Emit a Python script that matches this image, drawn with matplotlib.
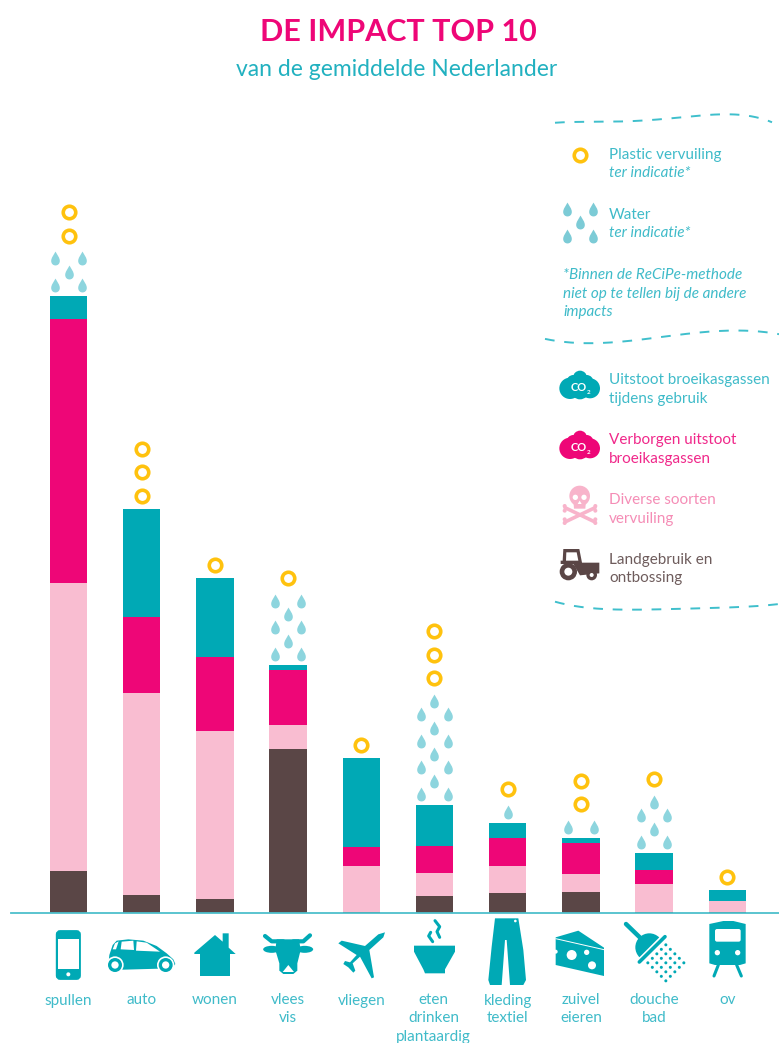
import numpy as np
import matplotlib
matplotlib.use("Agg")
from matplotlib import pyplot as plt
from matplotlib.patches import Circle, Ellipse, Polygon, FancyBboxPatch, Wedge
from matplotlib.path import Path

categories = ["spullen", "auto", "wonen", "vlees\nvis", "vliegen",
              "eten\ndrinken\nplantaardig", "kleding\ntextiel", "zuivel\neieren",
              "douche\nbad", "ov"]
land = [42, 18, 14, 164, 1, 17, 20, 21, 1, 1]
pollution = [288, 202, 168, 24, 46, 23, 27, 18.5, 28, 11]
hidden_co2 = [264, 76, 74, 55.5, 19, 27, 28, 31, 14, 0]
use_co2 = [23, 108, 79, 4.5, 89, 41, 15, 4.5, 17, 11]
plastic_rings = [2, 3, 1, 1, 1, 3, 1, 2, 1, 1]
water_drops = [5, 0, 0, 8, 0, 12, 1, 2, 6, 0]

TEAL = "#00A9B5"
PINK = "#EE0677"
LIGHT = "#F9BDD1"
BROWN = "#5A4646"
YELLOW = "#FFC20E"
DROP = "#8DD5DE"
TXT = "#3FBBC9"
FONT = "Lato"

DROP_PATH = Path(
    [(0, 1), (-0.3, 0.45), (-0.62, 0.1), (-0.62, -0.35), (-0.62, -0.8), (-0.3, -1), (0, -1),
     (0.3, -1), (0.62, -0.8), (0.62, -0.35), (0.62, 0.1), (0.3, 0.45), (0, 1)],
    [Path.MOVETO] + [Path.CURVE4] * 12)

fig = plt.figure(figsize=(7.79, 10.43), dpi=100)

# chart axes: x is the category index, y is the height above the baseline
ax = fig.add_axes([0, 0, 1, 1])
ax.set_xlim(-68.5 / 73.2, (779 - 68.5) / 73.2)
ax.set_ylim(-130, 913)
ax.axis("off")

x = np.arange(len(categories))
bottom = np.zeros(len(categories))
for values, color in [(land, BROWN), (pollution, LIGHT), (hidden_co2, PINK), (use_co2, TEAL)]:
    ax.bar(x, values, width=0.513, bottom=bottom, color=color, linewidth=0)
    bottom += np.array(values)

ax.plot([-0.785, 9.7], [0, 0], color="#4DBFCB", lw=1.3, clip_on=False)

for i, total in enumerate(bottom):
    y = total + 11
    left = water_drops[i]
    sides = left > 1
    while left > 0:
        if sides:
            ax.plot([i - 0.18, i + 0.18], [y, y], ls="none", marker=DROP_PATH, ms=10,
                    color=DROP, mew=0)
            left -= 2
        else:
            ax.plot([i], [y], ls="none", marker=DROP_PATH, ms=10, color=DROP, mew=0)
            left -= 1
        sides = not sides
        y += 13.3
    y = y - 13.3 + 22.7 if water_drops[i] else total + 13.5
    for r in range(plastic_rings[i]):
        ax.plot([i], [y + r * 23.5], ls="none", marker="o", ms=9, mfc="white",
                mec=YELLOW, mew=2.6)

# overlay in picture pixels for the texts and the icons
ov = fig.add_axes([0, 0, 1, 1])
ov.set_xlim(0, 779)
ov.set_ylim(1043, 0)
ov.axis("off")
ov.patch.set_alpha(0)


def poly(points, ox, oy, color=TEAL, z=3):
    pts = [(px / 3 + ox, py / 3 + oy) for px, py in points]
    ov.add_patch(Polygon(pts, closed=True, fc=color, ec="none", zorder=z))


def disc(px, py, r, ox, oy, color=TEAL, z=3):
    ov.add_patch(Circle((px / 3 + ox, py / 3 + oy), r / 3, fc=color, ec="none", zorder=z))


def stroke(points, ox, oy, lw, color=TEAL, z=3):
    ov.plot([p[0] / 3 + ox for p in points], [p[1] / 3 + oy for p in points],
            color=color, lw=lw, solid_capstyle="round", solid_joinstyle="round", zorder=z)


def label(px, py, s, color=TXT, size=11, style="normal", ha="left"):
    ov.text(px, py + 1, s, color=color, fontsize=size, style=style, ha=ha, va="center",
            family=FONT)


# titles
ov.text(398, 32, "DE IMPACT TOP 10", color=PINK, fontsize=22, fontweight="bold", ha="center",
        va="center", family=FONT)
ov.text(397, 70, "van de gemiddelde Nederlander", color="#22B1C0", fontsize=16.5, ha="center",
        va="center", family=FONT)

# category labels
for i, name in enumerate(categories):
    for j, line in enumerate(name.split("\n")):
        ax.text(i if i != 5 else 4.99, -87.5 - j * 18, line, color=TXT, fontsize=11, ha="center",
                va="center", family=FONT)

# wavy dashed lines of the legend
for xs, ys in [([555, 600, 657, 707, 757, 772], [122.7, 122, 119, 115.7, 116.7, 122.7]),
               ([545, 583, 627, 690, 757, 779], [339, 342.7, 341.7, 333, 331.7, 334]),
               ([555, 590, 673, 740, 779], [601.7, 608, 609, 607, 604])]:
    coef = np.polyfit(xs, ys, 4)
    xx = np.linspace(xs[0], xs[-1], 200)
    ov.plot(xx, np.polyval(coef, xx), color="#3FBFCC", lw=1.4, dashes=(5, 5))

# legend
ov.plot([580], [155], ls="none", marker="o", ms=9, mfc="white", mec=YELLOW, mew=2.6)
for lx, ly in [(566.7, 209), (592.7, 209), (580, 222.3), (566.7, 235.7), (592.7, 235.7)]:
    ov.plot([lx], [ly], ls="none", marker=DROP_PATH, ms=10, color="#7CCBD6", mew=0)

label(609, 154, "Plastic vervuiling")
label(609, 172, "ter indicatie*", style="italic")
label(609, 214, "Water")
label(609, 232, "ter indicatie*", style="italic")
label(563, 274, "*Binnen de ReCiPe-methode", style="italic")
label(563, 293, "niet op te tellen bij de andere", style="italic")
label(563, 311, "impacts", style="italic")
label(609, 379, "Uitstoot broeikasgassen")
label(609, 398, "tijdens gebruik")
label(609, 439, "Verborgen uitstoot", color="#F0288A")
label(609, 458, "broeikasgassen", color="#F0288A")
label(609, 499, "Diverse soorten", color="#F58DB6")
label(609, 518, "vervuiling", color="#F58DB6")
label(609, 559, "Landgebruik en", color="#6E5C5C")
label(609, 577, "ontbossing", color="#6E5C5C")

# clouds
for oy, color in [(340, TEAL), (400, PINK)]:
    for px, py, r in [(120, 113, 21), (90, 145, 32), (150, 145, 30), (120, 150, 28), (100, 125, 20),
                      (140, 125, 20)]:
        disc(px, py, r, 540, oy, color)
    ov.text(578.5, oy + 47.5, "CO", color="white", fontsize=8, fontweight="bold", ha="center",
            va="center", family=FONT, zorder=5)
    ov.text(588.5, oy + 52.5, "2", color="white", fontsize=4.5, fontweight="bold", ha="center",
            va="center", family=FONT, zorder=5)

# skull and bones
SK = "#F8B4CB"
stroke([(75, 503), (165, 546)], 540, 340, 2.6, SK)
stroke([(165, 503), (75, 546)], 540, 340, 2.6, SK)
for px, py in [(74, 498), (74, 512), (166, 498), (166, 512), (74, 538), (74, 549), (166, 538),
               (166, 549)]:
    disc(px, py, 6, 540, 340, SK)
disc(119, 468, 31, 540, 340, SK)
poly([(100, 480), (138, 480), (136, 506), (102, 506)], 540, 340, SK)
disc(106, 472, 8, 540, 340, "white", 4)
disc(132, 472, 8, 540, 340, "white", 4)
poly([(119, 482), (125, 492), (113, 492)], 540, 340, "white", 4)

# tractor
poly([(70, 627), (118, 627), (126, 668), (178, 668), (178, 700), (120, 706), (100, 672), (62, 672),
      (62, 662), (68, 662)], 540, 340, BROWN)
poly([(79, 637), (110, 637), (115, 662), (78, 662)], 540, 340, "white", 4)
disc(85, 695, 26, 540, 340, BROWN, 4)
disc(85, 695, 12, 540, 340, "white", 5)
disc(155, 705, 16, 540, 340, BROWN, 4)
disc(155, 705, 6, 540, 340, "white", 5)

# phone
ov.add_patch(FancyBboxPatch((57.2, 931.5), 22.3, 47, boxstyle="round,pad=0,rounding_size=3",
                            fc=TEAL, ec=TEAL, lw=2))
poly([(175, 117), (237, 117), (237, 207), (175, 207)], 0, 900, "white", 4)
disc(205, 223, 6, 0, 900, "white", 4)

# car
poly([(325, 195), (328, 165), (338, 135), (350, 122), (385, 118), (430, 122), (470, 138), (500, 160),
      (520, 178), (526, 192), (515, 205), (335, 210)], 0, 900)
poly([(338, 148), (345, 130), (356, 124), (348, 148)], 0, 900, "white", 4)
poly([(365, 125), (400, 122), (402, 150), (362, 148)], 0, 900, "white", 4)
poly([(410, 124), (440, 128), (480, 155), (408, 152)], 0, 900, "white", 4)
for cx in [345, 497]:
    disc(cx, 195, 26, 0, 900, "white", 4)
    disc(cx, 195, 21, 0, 900, TEAL, 5)
    disc(cx, 195, 11, 0, 900, "white", 6)

# house
poly([(583, 158), (645, 105), (668, 125), (668, 100), (686, 100), (686, 143), (707, 162), (690, 162),
      (690, 228), (600, 228), (600, 162), (583, 162)], 0, 900)

# cow
stroke([(795, 108), (815, 124), (850, 124)], 0, 900, 3)
stroke([(930, 106), (910, 124), (880, 124)], 0, 900, 3)
ov.add_patch(Ellipse((815 / 3, 900 + 148 / 3), 17, 7, fc=TEAL, ec="none", zorder=3))
ov.add_patch(Ellipse((914 / 3, 900 + 148 / 3), 17, 7, fc=TEAL, ec="none", zorder=3))
poly([(830, 118), (897, 118), (902, 150), (892, 190), (892, 212), (880, 222), (850, 222), (838, 212),
      (838, 190), (826, 150)], 0, 900)
poly([(848, 216), (865, 195), (882, 216)], 0, 900, "white", 4)

# plane
poly([(1155, 97), (1150, 112), (1108, 150), (1122, 232), (1115, 235), (1080, 170), (1058, 190),
      (1066, 212), (1060, 218), (1045, 202), (1030, 192), (1035, 183), (1050, 187), (1070, 165),
      (1015, 130), (1025, 122), (1095, 138), (1135, 103)], 0, 900)

# bowl
poly([(72, 137), (195, 137), (195, 155), (165, 208), (165, 220), (105, 220), (100, 208), (72, 155)],
     390, 900)
stroke([(135, 62), (149, 80), (141, 95), (149, 112)], 390, 900, 2.2)
stroke([(122, 97), (116, 108), (128, 125)], 390, 900, 2.2)

# trousers
poly([(315, 55), (385, 55), (400, 150), (408, 240), (400, 255), (360, 255), (350, 120), (345, 120),
      (335, 255), (300, 255), (295, 240), (305, 140)], 390, 900)
disc(376, 63, 4, 390, 900, "white", 4)

# cheese
poly([(497, 112), (565, 92), (642, 143), (642, 228), (497, 195)], 390, 900)
stroke([(497, 116), (642, 149)], 390, 900, 0.7, "white", 4)
for px, py, r in [(545, 165, 15), (590, 157, 8), (606, 196, 12), (497, 155, 6)]:
    disc(px, py, r, 390, 900, "white", 4)

# shower
stroke([(708, 72), (770, 132)], 390, 900, 3.2)
ov.add_patch(Wedge((390 + 778 / 3, 900 + 142 / 3), 14, 135, 315, fc=TEAL, ec="none", zorder=3))
stroke([(748, 186), (825, 110)], 390, 900, 2.6)
for row in range(1, 6):
    for col in range(-2, 3):
        px = 787 + (row * 13.5 + col * 13.5)
        py = 148 + (row * 13.5 - col * 13.5)
        disc(px, py, 4.5, 390, 900)

# train
poly([(958, 72), (1000, 63), (1030, 63), (1067, 72), (1067, 190), (1050, 195), (975, 195),
      (958, 190)], 390, 900)
ov.add_patch(FancyBboxPatch((390 + 975 / 3, 900 + 87 / 3), 77 / 3, 38 / 3,
                            boxstyle="round,pad=0,rounding_size=2", fc="white", ec="none", zorder=4))
disc(982, 158, 8, 390, 900, "white", 4)
disc(1043, 158, 8, 390, 900, "white", 4)
stroke([(985, 195), (972, 228)], 390, 900, 2.2)
stroke([(1040, 195), (1054, 228)], 390, 900, 2.2)

fig.savefig("out.png", dpi=100)
